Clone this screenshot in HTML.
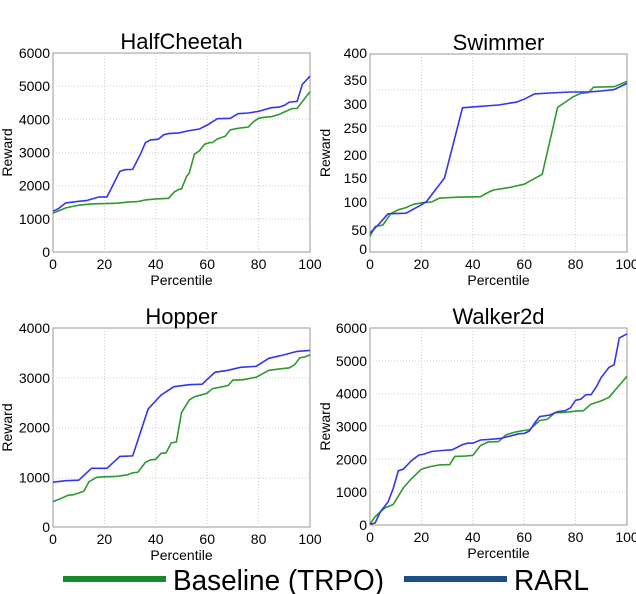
<!DOCTYPE html>
<html><head><meta charset="utf-8"><style>
body{margin:0;background:#fff;}
svg{display:block;font-family:"Liberation Sans",sans-serif;}
</style></head><body>
<svg id="fig" width="636" height="594" viewBox="0 0 636 594"></svg>
<script>
const xTicks=[0,20,40,60,80,100];
const hcX=[0,2,5,10,13,18,21,26,28,31,34,36,38,41,43,45,49,53,57,60,64,69,72,76,80,83,85,88,90,92,95,97,100];
const hcRarl=[1230,1300,1480,1530,1550,1660,1660,2430,2480,2490,2950,3300,3380,3400,3530,3570,3590,3660,3710,3830,4020,4030,4170,4190,4240,4310,4350,4370,4420,4520,4540,5050,5300];
const hcBX=[0,5,10,15,25,30,33,36,40,45,47,49,50,52,53,55,57,59,61,62,64,67,69,72,76,78,80,82,85,88,90,93,95,100];
const hcBase=[1170,1330,1410,1450,1470,1510,1520,1570,1600,1620,1800,1890,1900,2280,2380,2950,3050,3250,3300,3300,3410,3490,3680,3730,3770,3930,4030,4060,4080,4150,4220,4320,4330,4830];
const swX=[0,3,7,14,20,22,29,36,40,50,57,60,64,70,78,85,90,95,100];
const swRarl=[42,58,79,80,95,101,150,292,294,298,304,310,321,323,325,325,327,330,343];
const swBX=[0,2,5,8,11,14,17,21,24,27,30,34,43,46,48,54,60,63,67,73,76,79,82,85,87,95,100];
const swBase=[34,56,59,79,86,90,96,99,100,108,109,110,111,120,125,130,137,146,158,293,304,315,322,324,335,336,347];
const hoX=[0,5,10,15,21,26,31,37,42,47,53,58,63,68,73,79,84,89,95,100];
const hoRarl=[900,930,940,1180,1180,1420,1430,2370,2650,2820,2860,2870,3110,3150,3210,3230,3390,3450,3530,3550];
const hoBX=[0,3,6,8,12,14,17,20,25,29,31,33,36,38,40,42,44,46,48,50,53,55,58,60,62,66,68,70,74,79,84,87,92,94,96,98,100];
const hoBase=[510,570,640,650,720,910,1000,1010,1020,1050,1090,1100,1300,1350,1360,1480,1490,1690,1710,2300,2550,2620,2660,2690,2780,2820,2840,2950,2960,3010,3150,3170,3200,3260,3400,3420,3460];
const waX=[0,2,4,7,9,11,13,16,19,21,24,28,32,36,38,40,43,47,51,55,58,60,62,64,66,70,73,76,78,80,82,84,86,88,90,93,95,97,100];
const waRarl=[20,60,400,700,1100,1650,1700,1950,2130,2160,2240,2270,2290,2450,2490,2490,2590,2610,2640,2720,2780,2790,2860,3100,3300,3350,3450,3480,3570,3800,3830,3970,3970,4200,4500,4800,4880,5700,5820];
const waBX=[0,2,4,6,9,13,16,20,23,27,31,33,37,40,43,46,50,53,56,59,62,66,69,72,76,80,83,86,90,93,100];
const waBase=[30,250,400,530,620,1130,1400,1700,1770,1830,1840,2090,2100,2120,2420,2530,2540,2750,2820,2870,2900,3180,3220,3420,3430,3470,3480,3680,3780,3890,4530];
const yTicks4k=[0,1000,2000,3000,4000];
const yTicks6k=[0,1000,2000,3000,4000,5000,6000];
const swYTicks=[0,50,100,150,200,250,300,350,400];
const swYPix=[249,230,202,178,155,128,104,80,53];
const NS='http://www.w3.org/2000/svg';
const svg=document.getElementById('fig');
function mk(tag,attrs,parent,name){const e=document.createElementNS(NS,tag);for(const k in attrs)e.setAttribute(k,attrs[k]);


(parent||svg).appendChild(e);return e;}
function panel(p){
  const g=mk('g',{},svg,p.name+'-panel');
  const sx=v=>p.l+(v/100)*(p.r-p.l);
  const sy=p.sy;
  mk('rect',{x:p.l,y:p.t,width:p.r-p.l,height:p.b-p.t,fill:'#fff',stroke:'#999','stroke-width':1},g,'plot-frame');
  xTicks.forEach(v=>{if(v>0&&v<100)mk('line',{x1:sx(v),x2:sx(v),y1:p.t,y2:p.b,stroke:'#ccc','stroke-dasharray':'1,2'},g,'x-gridline');
    const t=mk('text',{x:sx(v),y:p.b+17,'font-size':14,'text-anchor':'middle',fill:'#000'},g,'x-tick-label');t.textContent=v;});
  p.grid.forEach(y=>mk('line',{x1:p.l,x2:p.r,y1:y,y2:y,stroke:'#ccc','stroke-dasharray':'1,2'},g,'y-gridline'));
  p.yt.forEach(v=>{const t=mk('text',{x:p.l-3,y:sy(v)+5,'font-size':14,'text-anchor':'end',fill:'#000'},g,'y-tick-label');t.textContent=v;});
  const tt=mk('text',{x:(p.l+p.r)/2,y:p.t-4,'font-size':22,'text-anchor':'middle',fill:'#000'},g,'chart-title');tt.textContent=p.title;
  const xl=mk('text',{x:(p.l+p.r)/2,y:p.b+33,'font-size':14,'text-anchor':'middle',fill:'#000'},g,'x-axis-title');xl.textContent='Percentile';
  const cy=(p.t+p.b)/2;
  const yl=mk('text',{x:p.yx,y:cy,'font-size':14,'text-anchor':'middle',fill:'#000',transform:`rotate(-90 ${p.yx} ${cy})`},g,'y-axis-title');yl.textContent='Reward';
  const line=(xs,ys,c,n)=>mk('polyline',{points:xs.map((x,i)=>sx(x).toFixed(1)+','+sy(ys[i]).toFixed(1)).join(' '),fill:'none',stroke:c,'stroke-width':1.6},g,n);
  line(p.bx,p.base,'#2e9a2e','baseline-line');
  line(p.rx,p.rarl,'#3535f0','rarl-line');
}
function lin(t,b,max){return v=>b-(v/max)*(b-t);}
function pw(v){for(let i=0;i<swYTicks.length-1;i++){if(v<=swYTicks[i+1]){const f=(v-swYTicks[i])/(swYTicks[i+1]-swYTicks[i]);return swYPix[i]+f*(swYPix[i+1]-swYPix[i]);}}return swYPix[swYPix.length-1];}
panel({name:'halfcheetah',title:'HalfCheetah',l:53,r:310,t:53,b:252,yx:12,sy:lin(53,252,6000),yt:yTicks6k,grid:[86,119,153,186,219],rx:hcX,rarl:hcRarl,bx:hcBX,base:hcBase});
panel({name:'swimmer',title:'Swimmer',l:370,r:627,t:54,b:252,yx:330,sy:pw,yt:swYTicks,grid:[90,126,162,198,235],rx:swX,rarl:swRarl,bx:swBX,base:swBase});
panel({name:'hopper',title:'Hopper',l:53,r:310,t:328,b:527,yx:12,sy:lin(328,527,4000),yt:yTicks4k,grid:[378,428,478],rx:hoX,rarl:hoRarl,bx:hoBX,base:hoBase});
panel({name:'walker2d',title:'Walker2d',l:370,r:627,t:328,b:525,yx:330,sy:lin(328,525,6000),yt:yTicks6k,grid:[361,394,426,459,492],rx:waX,rarl:waRarl,bx:waBX,base:waBase});
const lg=mk('g',{},svg,'legend');
mk('line',{x1:63,x2:166,y1:579,y2:579,stroke:'#178a2a','stroke-width':6},lg,'legend-baseline-swatch');
const t1=mk('text',{x:173,y:590,'font-size':29,textLength:211,lengthAdjust:'spacingAndGlyphs',fill:'#000'},lg,'legend-baseline-label');t1.textContent='Baseline (TRPO)';
mk('line',{x1:404,x2:507,y1:579,y2:579,stroke:'#1c4f8a','stroke-width':6},lg,'legend-rarl-swatch');
const t2=mk('text',{x:514,y:590,'font-size':29,textLength:75,lengthAdjust:'spacingAndGlyphs',fill:'#000'},lg,'legend-rarl-label');t2.textContent='RARL';
</script>
</body></html>
